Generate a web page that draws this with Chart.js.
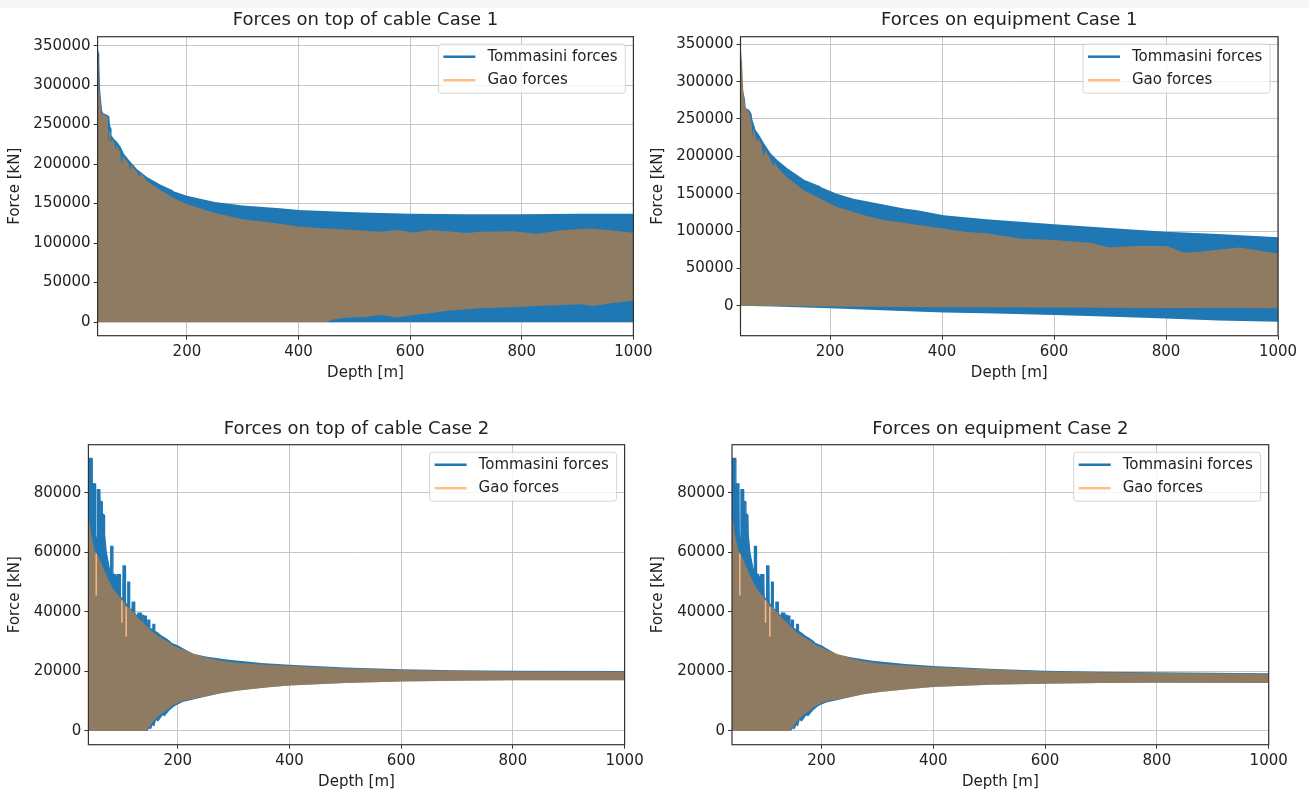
<!DOCTYPE html>
<html>
<head>
<meta charset="utf-8">
<title>Forces on cable and equipment</title>
<script src="https://cdn.jsdelivr.net/npm/chart.js@4.4.1/dist/chart.umd.min.js"></script>
<style>
  html, body { margin: 0; padding: 0; background: #fff; overflow: hidden; }
  body { width: 1309px; height: 794px; position: relative; }
  .top-strip { position: absolute; left: 0; top: 0; width: 1309px; height: 8px; background: #f6f6f6; }
  canvas { position: absolute; }
</style>
</head>
<body>
<div class="top-strip"></div>
<canvas id="cable1" width="660" height="400" style="left:0;top:0"></canvas>
<canvas id="equip1" width="664" height="400" style="left:645px;top:0"></canvas>
<canvas id="cable2" width="650" height="400" style="left:0;top:400px"></canvas>
<canvas id="equip2" width="664" height="400" style="left:645px;top:400px"></canvas>
<script>
// ---- data (envelopes of the oscillating force signals) ----
const seriesNames = ['Tommasini forces', 'Gao forces'];
const depthTicks = [200, 400, 600, 800, 1000];
const case1ForceTicks = [0, 50000, 100000, 150000, 200000, 250000, 300000, 350000];
const case2ForceTicks = [0, 20000, 40000, 60000, 80000];

// Case 1, top of cable
const c1CableTomUpperDepth = [40, 41.3, 42, 43.5, 45, 47, 49, 55, 60, 61, 63, 64, 68, 75, 80, 86, 95, 100, 110, 128, 150, 175, 200, 250, 300, 367, 400, 500, 600, 700, 800, 900, 1000];
const c1CableTomUpper = [344000, 340000, 326000, 294000, 282000, 268000, 264000, 262000, 260000, 250000, 245000, 236000, 232000, 227000, 222000, 213000, 205000, 201000, 193000, 183000, 174000, 166000, 160000, 152000, 147500, 144000, 142000, 139000, 137000, 136500, 136500, 137000, 137000];
const c1CableTomLowerDepth = [40, 1000];
const c1CableTomLower = [0, 0];
const c1CableGaoUpperDepth = [40, 41.5, 42, 43, 43.5, 45, 47, 52, 58, 59, 60, 61, 63, 64, 66, 70, 72, 74, 80, 83, 85, 95, 98, 100, 110, 115, 118, 128, 150, 176, 200, 250, 300, 350, 400, 450, 500, 546, 576, 606, 636, 666, 701, 725, 785, 827, 875, 923, 965, 1000];
const c1CableGaoUpper = [294000, 300000, 330000, 328000, 292000, 280000, 265000, 262000, 260000, 240000, 230000, 245000, 238000, 228000, 232000, 226000, 218000, 224000, 216000, 198000, 210000, 202000, 192000, 199000, 190000, 184000, 188000, 179000, 168000, 157000, 149000, 138000, 130000, 126000, 121000, 118500, 116500, 114400, 116500, 113500, 116500, 115000, 112600, 114400, 115000, 111700, 116500, 118500, 115700, 113200];
const c1CableGaoLowerDepth = [40, 450, 460, 480, 520, 546, 576, 606, 636, 666, 725, 785, 827, 875, 905, 929, 965, 1000];
const c1CableGaoLower = [0, 0, 3000, 5000, 6500, 8900, 5900, 8900, 11000, 14400, 17300, 18600, 20300, 21500, 22400, 20300, 24500, 27000];

// Case 1, equipment
const c1EquipTomUpperDepth = [40, 41.3, 43.7, 46.7, 48.5, 54.5, 58.6, 60.4, 63.5, 66, 72.5, 81, 93, 105, 123, 153, 183, 212, 242, 272, 302, 332, 356, 403, 479, 600, 705, 800, 893, 1000];
const c1EquipTomUpper = [340000, 326000, 288000, 277000, 264000, 261600, 257000, 248000, 241500, 235000, 228000, 217000, 203600, 194600, 183500, 168000, 159000, 150000, 143300, 138800, 134400, 130000, 127700, 121000, 115600, 109000, 103600, 99000, 96000, 91500];
const c1EquipTomLowerDepth = [40, 100, 200, 328, 403, 479, 600, 705, 800, 893, 1000];
const c1EquipTomLower = [0, -1000, -3600, -7000, -9000, -10000, -12500, -14700, -17000, -20000, -21400];
const c1EquipGaoUpperDepth = [40, 41, 41.5, 43, 45, 48.5, 52, 56, 60, 61.5, 63, 66, 70, 72, 78, 81, 84, 90, 93, 99, 101, 105, 123, 153, 183, 212, 242, 272, 302, 332, 356, 403, 440, 479, 539, 600, 667, 697, 742, 800, 833, 855, 931, 1000];
const c1EquipGaoUpper = [290000, 300000, 326000, 326000, 288000, 266000, 262000, 258000, 244000, 226000, 238000, 230000, 219000, 224000, 215000, 199000, 208000, 201000, 197000, 186000, 192000, 186000, 172000, 154500, 143300, 132000, 125500, 118800, 114000, 111000, 108000, 103500, 99000, 96900, 90000, 88000, 84000, 78000, 80000, 80000, 71000, 72000, 78000, 70000];
const c1EquipGaoLowerDepth = [40, 200, 400, 600, 800, 1000];
const c1EquipGaoLower = [0, -1000, -2000, -2500, -3000, -3600];

// Case 2, shared shallow part (both panels look the same up to ~200 m)
const c2TomUpperHeadDepth = [40, 46.5, 47, 52.5, 53, 55.5, 56, 60.5, 61, 64.5, 65, 68.5, 69, 72, 78, 79.5, 80, 83.5, 84, 88, 88.5, 89, 91, 91.5, 97, 97.5, 101.5, 102, 106, 106.5, 110, 110.5, 113.5, 114, 118, 118.5, 122.5, 123, 128, 128.5, 134.5, 135, 139, 139.5, 141, 141.5, 143.5, 144, 146, 146.5, 149.5, 150, 155, 155.5, 158.5, 159, 164, 170, 179, 188, 200];
const c2TomUpperHead = [91500, 91500, 83000, 83000, 66000, 62000, 81000, 81000, 77200, 77000, 73000, 72500, 66000, 60000, 54000, 52000, 62000, 62000, 52800, 52500, 48000, 51700, 51700, 52500, 52500, 45000, 44000, 55400, 55400, 43000, 42000, 50000, 50000, 41000, 40500, 43300, 43300, 39500, 38500, 39600, 39600, 38800, 38800, 36500, 36000, 38600, 38600, 35800, 35500, 37200, 37200, 34500, 34000, 35800, 35800, 33500, 32900, 32000, 31000, 29700, 28800];
const c2GaoUpperHeadDepth = [40, 41, 45, 51, 57, 66, 75, 84, 96, 108, 120, 131, 143, 155, 167, 179, 191, 200];
const c2GaoUpperHead = [72000, 71800, 66200, 60600, 59000, 55000, 51100, 47800, 45000, 42200, 40000, 37700, 35500, 33200, 31600, 30400, 28800, 28000];
const c2GaoLowerHeadDepth = [40, 143, 150, 155, 167, 179, 191, 200];
const c2GaoLowerHead = [0, 0, 1500, 3000, 5300, 6900, 8600, 9400];
const c2TomLowerHeadDepth = [40, 145, 149, 152, 155, 158, 161, 165, 173, 176, 185, 194, 200];
const c2TomLowerHead = [0, 0, 800, 600, 1900, 1500, 3600, 3200, 5300, 4900, 6900, 8300, 8900];
// light orange Gao dips visible inside the band
const c2GaoDipDepth = [54, 100, 107.7];
const c2GaoDipTop = [59500, 43900, 41600];
const c2GaoDipBottom = [45500, 36300, 31600];

// Case 2, deeper part
const c2TomUpperTailDepth = [215, 228, 250, 288, 350, 400, 500, 600, 700, 800, 1000];
const cable2TomUpperTail = [27200, 25900, 25000, 24000, 22800, 22200, 21300, 20700, 20400, 20200, 20100];
const equip2TomUpperTail = [27100, 25800, 24800, 23700, 22500, 21800, 20900, 20200, 19900, 19700, 19400];
const c2GaoUpperTailDepth = [215, 245, 275, 305, 358, 400, 500, 600, 700, 800, 1000];
const cable2GaoUpperTail = [26900, 25000, 23700, 22900, 22200, 21900, 21100, 20500, 20200, 20000, 19900];
const equip2GaoUpperTail = [26800, 24800, 23400, 22600, 21900, 21500, 20700, 20000, 19700, 19500, 19200];
const c2GaoLowerTailDepth = [215, 245, 275, 305, 358, 400, 500, 600, 700, 800, 1000];
const cable2GaoLowerTail = [10300, 11400, 12600, 13500, 14600, 15300, 16100, 16600, 16900, 17000, 17000];
const equip2GaoLowerTail = [10200, 11200, 12300, 13100, 14100, 14800, 15500, 15900, 16100, 16200, 16100];
const c2TomLowerTailDepth = [209, 245, 275, 305, 358, 400, 500, 600, 700, 800, 1000];
const cable2TomLowerTail = [9700, 11300, 12600, 13500, 14600, 15300, 16100, 16600, 16900, 17000, 17000];
const equip2TomLowerTail = [9600, 11100, 12300, 13100, 14100, 14800, 15500, 15900, 16100, 16200, 16100];

// ---- styling ----
const family = 'DejaVu Sans';
const textColor = '#222';
const tomColor = '#1f77b4';
const gaoColor = 'rgba(255, 127, 14, 0.5)';
const seriesColors = [tomColor, gaoColor];
const clear = 'rgba(0,0,0,0)';

function pts(xs, ys) {
  return xs.map((x, i) => ({ x: x, y: ys[i] }));
}

// vertical segments separated by gaps
function dips(xs, tops, bottoms) {
  const out = [];
  xs.forEach((x, i) => {
    out.push({ x: x, y: tops[i] }, { x: x, y: bottoms[i] }, { x: x + 0.01, y: null });
  });
  return out;
}

// Gao first so it is drawn on top of Tommasini
function bandSets(gaoUp, gaoLow, tomUp, tomLow, extra) {
  const sets = [
    { label: 'Gao forces', data: gaoUp, borderWidth: 0, borderColor: clear, fill: false },
    { label: 'Gao forces', data: gaoLow, borderWidth: 0, borderColor: clear, backgroundColor: gaoColor, fill: '-1' },
    { label: 'Tommasini forces', data: tomUp, borderWidth: 0, borderColor: clear, fill: false },
    { label: 'Tommasini forces', data: tomLow, borderWidth: 0, borderColor: clear, backgroundColor: tomColor, fill: '-1' },
    // outline of the spiky shallow part (signal lines are visible there)
    { label: 'Tommasini forces', data: tomUp.filter(p => p.x <= 190), borderWidth: 1.2, borderColor: tomColor, fill: false }
  ];
  if (extra) {
    sets.unshift({ label: 'Gao forces', data: extra, borderWidth: 1.5, borderColor: '#f5b98a', fill: false, spanGaps: false });
  }
  return sets;
}

const frame = {
  id: 'frame',
  afterDatasetsDraw(chart) {
    const { ctx, chartArea: a } = chart;
    ctx.save();
    ctx.strokeStyle = '#333';
    ctx.lineWidth = 1.2;
    ctx.strokeRect(a.left, a.top, a.right - a.left, a.bottom - a.top);
    ctx.restore();
  }
};

const legendBox = {
  id: 'legendBox',
  afterDraw(chart) {
    const { ctx, chartArea: a } = chart;
    const w = 187, h = 49;
    const x = a.right - 8 - w;
    const y = a.top + 7.5;
    ctx.save();
    ctx.fillStyle = 'rgba(255,255,255,0.8)';
    ctx.strokeStyle = '#d6d6d6';
    ctx.lineWidth = 1;
    ctx.beginPath();
    ctx.roundRect(x, y, w, h, 3);
    ctx.fill();
    ctx.stroke();
    ctx.font = '15px "' + family + '"';
    ctx.textBaseline = 'middle';
    seriesNames.forEach((name, i) => {
      const ly = y + 12.5 + i * 23.5;
      ctx.strokeStyle = seriesColors[i];
      ctx.lineWidth = 2.5;
      ctx.beginPath();
      ctx.moveTo(x + 5, ly);
      ctx.lineTo(x + 37, ly);
      ctx.stroke();
      ctx.fillStyle = textColor;
      ctx.fillText(name, x + 49, ly);
    });
    ctx.restore();
  }
};

function makePanel(id, p) {
  const tickFont = { family: family, size: 15 };
  return new Chart(document.getElementById(id), {
    type: 'line',
    data: { datasets: p.datasets },
    options: {
      responsive: false,
      animation: false,
      events: [],
      layout: { padding: { left: p.padL, right: p.padR, top: 0, bottom: p.padB } },
      elements: { point: { radius: 0 }, line: { tension: 0 } },
      plugins: {
        legend: { display: false },
        tooltip: { enabled: false },
        title: {
          display: true,
          text: p.title,
          color: textColor,
          fullSize: false,
          font: { family: family, size: 18, weight: 'normal' },
          padding: { top: p.titleTop, bottom: p.titleBottom }
        }
      },
      scales: {
        x: {
          type: 'linear',
          min: 40,
          max: 1000,
          afterBuildTicks: s => { s.ticks = depthTicks.map(v => ({ value: v })); },
          afterFit: s => { s.height = 50.3; },
          ticks: { font: tickFont, color: textColor, padding: 3, maxRotation: 0, autoSkip: false, callback: v => String(v) },
          grid: { color: '#c6c6c6', lineWidth: 1, tickColor: '#333', tickLength: 4 },
          border: { display: false },
          title: { display: true, text: 'Depth [m]', color: textColor, font: tickFont, padding: { top: 0, bottom: 4 } }
        },
        y: {
          type: 'linear',
          min: p.yMin,
          max: p.yMax,
          afterBuildTicks: s => { s.ticks = p.yTicks.map(v => ({ value: v })); },
          afterFit: s => { s.width = p.yWidth; },
          ticks: { font: tickFont, color: textColor, padding: 3, autoSkip: false, callback: v => String(v) },
          grid: { color: '#c6c6c6', lineWidth: 1, tickColor: '#333', tickLength: 4 },
          border: { display: false },
          title: { display: true, text: 'Force [kN]', color: textColor, font: tickFont, padding: { top: 4, bottom: 0 } }
        }
      }
    },
    plugins: [frame, legendBox]
  });
}

makePanel('cable1', {
  title: 'Forces on top of cable Case 1',
  datasets: bandSets(
    pts(c1CableGaoUpperDepth, c1CableGaoUpper), pts(c1CableGaoLowerDepth, c1CableGaoLower),
    pts(c1CableTomUpperDepth, c1CableTomUpper), pts(c1CableTomLowerDepth, c1CableTomLower)),
  yTicks: case1ForceTicks, yMin: -17300, yMax: 361300,
  padL: 2, padR: 26.6, padB: 14, yWidth: 95.6, titleTop: 10, titleBottom: 5.1
});

makePanel('equip1', {
  title: 'Forces on equipment Case 1',
  datasets: bandSets(
    pts(c1EquipGaoUpperDepth, c1EquipGaoUpper), pts(c1EquipGaoLowerDepth, c1EquipGaoLower),
    pts(c1EquipTomUpperDepth, c1EquipTomUpper), pts(c1EquipTomLowerDepth, c1EquipTomLower)),
  yTicks: case1ForceTicks, yMin: -40200, yMax: 360200,
  padL: 0, padR: 31, padB: 14, yWidth: 95.5, titleTop: 10, titleBottom: 5.1
});

makePanel('cable2', {
  title: 'Forces on top of cable Case 2',
  datasets: bandSets(
    pts(c2GaoUpperHeadDepth.concat(c2GaoUpperTailDepth), c2GaoUpperHead.concat(cable2GaoUpperTail)),
    pts(c2GaoLowerHeadDepth.concat(c2GaoLowerTailDepth), c2GaoLowerHead.concat(cable2GaoLowerTail)),
    pts(c2TomUpperHeadDepth.concat(c2TomUpperTailDepth), c2TomUpperHead.concat(cable2TomUpperTail)),
    pts(c2TomLowerHeadDepth.concat(c2TomLowerTailDepth), c2TomLowerHead.concat(cable2TomLowerTail)),
    dips(c2GaoDipDepth, c2GaoDipTop, c2GaoDipBottom)),
  yTicks: case2ForceTicks, yMin: -4600, yMax: 96100,
  padL: 2, padR: 25.4, padB: 5, yWidth: 86.4, titleTop: 18.2, titleBottom: 4.9
});

makePanel('equip2', {
  title: 'Forces on equipment Case 2',
  datasets: bandSets(
    pts(c2GaoUpperHeadDepth.concat(c2GaoUpperTailDepth), c2GaoUpperHead.concat(equip2GaoUpperTail)),
    pts(c2GaoLowerHeadDepth.concat(c2GaoLowerTailDepth), c2GaoLowerHead.concat(equip2GaoLowerTail)),
    pts(c2TomUpperHeadDepth.concat(c2TomUpperTailDepth), c2TomUpperHead.concat(equip2TomUpperTail)),
    pts(c2TomLowerHeadDepth.concat(c2TomLowerTailDepth), c2TomLowerHead.concat(equip2TomLowerTail)),
    dips(c2GaoDipDepth, c2GaoDipTop, c2GaoDipBottom)),
  yTicks: case2ForceTicks, yMin: -4600, yMax: 96100,
  padL: 0, padR: 40.3, padB: 5, yWidth: 87, titleTop: 18.2, titleBottom: 4.9
});
</script>
</body>
</html>
